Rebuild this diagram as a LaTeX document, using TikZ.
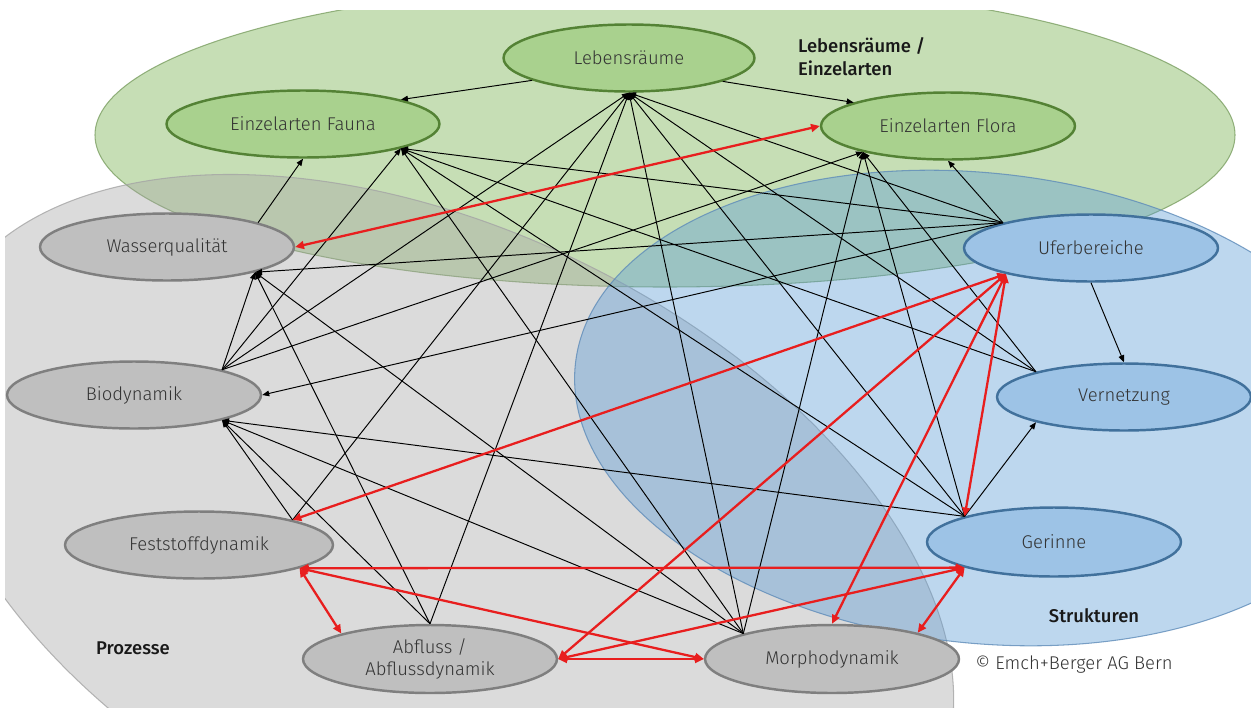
\documentclass[tikz,border=0pt]{standalone}
\usepackage{fontspec}
\setmainfont{Fira Sans}[UprightFont=* Light, BoldFont=* Medium]
\usepackage{tikz}
\usetikzlibrary{arrows.meta,shapes.geometric}
\definecolor{grnbg}{HTML}{70AD47}
\definecolor{grybg}{HTML}{A5A5A5}
\definecolor{blubg}{HTML}{5B9BD5}
\definecolor{grnedge}{RGB}{125,160,100}
\definecolor{gryedge}{RGB}{165,165,165}
\definecolor{bluedge}{RGB}{95,140,185}
\definecolor{grnfill}{HTML}{A9D18E}
\definecolor{grnline}{HTML}{548235}
\definecolor{gryfill}{HTML}{BFBFBF}
\definecolor{gryline}{HTML}{7F7F7F}
\definecolor{blufill}{HTML}{9DC3E6}
\definecolor{bluline}{HTML}{41719C}
\definecolor{txtgray}{HTML}{333333}
\definecolor{wechred}{RGB}{232,30,30}

\begin{document}
\begin{tikzpicture}[
  x=0.02cm, y=-0.02cm,
  font=\fontsize{10.5pt}{13pt}\selectfont,
  box/.style={draw, ellipse, line width=1.4pt, minimum width=5.08cm, minimum height=1.34cm, inner sep=0pt, text=txtgray, align=center},
  grn/.style={box, fill=grnfill, draw=grnline},
  gry/.style={box, fill=gryfill, draw=gryline},
  blu/.style={box, fill=blufill, draw=bluline},
  bgarea/.style={fill opacity=0.4, draw opacity=0.8, line width=0.6pt},
  inf/.style={-{Triangle[length=4pt,width=3.2pt]}, line width=0.55pt},
  wech/.style={{Triangle[length=5pt,width=4.5pt]}-{Triangle[length=5pt,width=4.5pt]}, line width=1.3pt, draw=wechred},
  lbl/.style={font=\fontsize{10.5pt}{13pt}\selectfont\bfseries, align=left, text=black!90}
]
\useasboundingbox (0,0) rectangle (1251,707);

% Hintergrundflaechen
\begin{scope}
\clip (5,10) rectangle (1251,707);
\filldraw[bgarea, fill=grnbg, draw=grnedge] (665,135) ellipse [x radius=570, y radius=152];
\filldraw[bgarea, fill=grybg, draw=gryedge, rotate around={-25.7:(440,547)}] (440,547) ellipse [x radius=549, y radius=318];
\filldraw[bgarea, fill=blubg, draw=bluedge, rotate around={-6.25:(980,408)}] (980,408) ellipse [x radius=407, y radius=235];
\end{scope}

% Knoten
\node[grn, minimum width=5.02cm] (leb)   at (629,58)   {Lebensräume};
\node[grn, minimum width=5.46cm] (fauna) at (303,124)  {Einzelarten Fauna};
\node[grn]   (flora)  at (948,126)  {Einzelarten Flora};
\node[gry]   (wasser) at (167,247)  {Wasserqualität};
\node[blu]   (ufer)   at (1091,248) {Uferbereiche};
\node[gry]   (bio)    at (134,395)  {Biodynamik};
\node[blu]   (vern)   at (1124,397) {Vernetzung};
\node[gry, minimum width=5.36cm] (fest) at (199,545) {Feststoffdynamik};
\node[blu, minimum height=1.38cm] (ger) at (1054,542) {Gerinne};
\node[gry, minimum height=1.36cm] (abf)   at (430,659) {Abfluss /\\Abflussdynamik};
\node[gry, minimum height=1.36cm] (morph) at (832,659) {Morphodynamik};

\node[lbl, anchor=west] (lbllr) at (792,57) {Lebensräume /\\Einzelarten};
\node[lbl] (lblpro) at (133,648) {Prozesse};
\node[lbl] (lblstr) at (1094,616) {Strukturen};
\node[text=txtgray] (quelle) at (1074,665) {© Emch+Berger AG Bern};

% Einfluesse
\draw[inf] (leb.193) -- (fauna.14);
\draw[inf] (leb.-14) -- (flora.166);
\draw[inf] (wasser.15) -- (fauna.south);
\draw[inf] (bio.16) -- (wasser.-16);
\draw[inf] (bio.16) -- (fauna.-14);
\draw[inf] (bio.16) -- (leb.south);
\draw[inf] (bio.16) -- (flora.-163);
\draw[inf] (fest.15) -- (bio.-16);
\draw[inf] (fest.15) -- (leb.south);
\draw[inf] (abf.north) -- (bio.-16);
\draw[inf] (abf.north) -- (wasser.-16);
\draw[inf] (abf.north) -- (leb.south);
\draw[inf] (morph.164) -- (wasser.-16);
\draw[inf] (morph.164) -- (bio.-16);
\draw[inf] (morph.164) -- (fauna.-14);
\draw[inf] (morph.164) -- (leb.south);
\draw[inf] (morph.164) -- (flora.-163);
\draw[inf] (ger.164) -- (bio.-16);
\draw[inf] (ger.164) -- (fauna.-14);
\draw[inf] (ger.164) -- (leb.south);
\draw[inf] (ger.164) -- (flora.-163);
\draw[inf] (ger.164) -- (vern.196);
\draw[inf] (vern.164) -- (fauna.-14);
\draw[inf] (vern.164) -- (leb.south);
\draw[inf] (vern.164) -- (flora.-163);
\draw[inf] (ufer.164) -- (fauna.-14);
\draw[inf] (ufer.164) -- (leb.south);
\draw[inf] (ufer.164) -- (wasser.-16);
\draw[inf] (ufer.164) -- (bio.east);
\draw[inf] (ufer.164) -- (flora.south);
\draw[inf] (ufer.south) -- (vern.north);

% Wechselwirkungen
\draw[wech] (wasser.east) -- (flora.west);
\draw[wech] (fest.15) -- (ufer.197);
\draw[wech] (abf.east) -- (ufer.197);
\draw[wech] (morph.north) -- (ufer.197);
\draw[wech] (ger.164) -- (ufer.197);
\draw[wech] (fest.-13) -- (ger.196);
\draw[wech] (fest.-13) -- (morph.west);
\draw[wech] (fest.-13) -- (abf.164);
\draw[wech] (abf.east) -- (morph.west);
\draw[wech] (abf.east) -- (ger.196);
\draw[wech] (morph.17) -- (ger.196);
\end{tikzpicture}
\end{document}
